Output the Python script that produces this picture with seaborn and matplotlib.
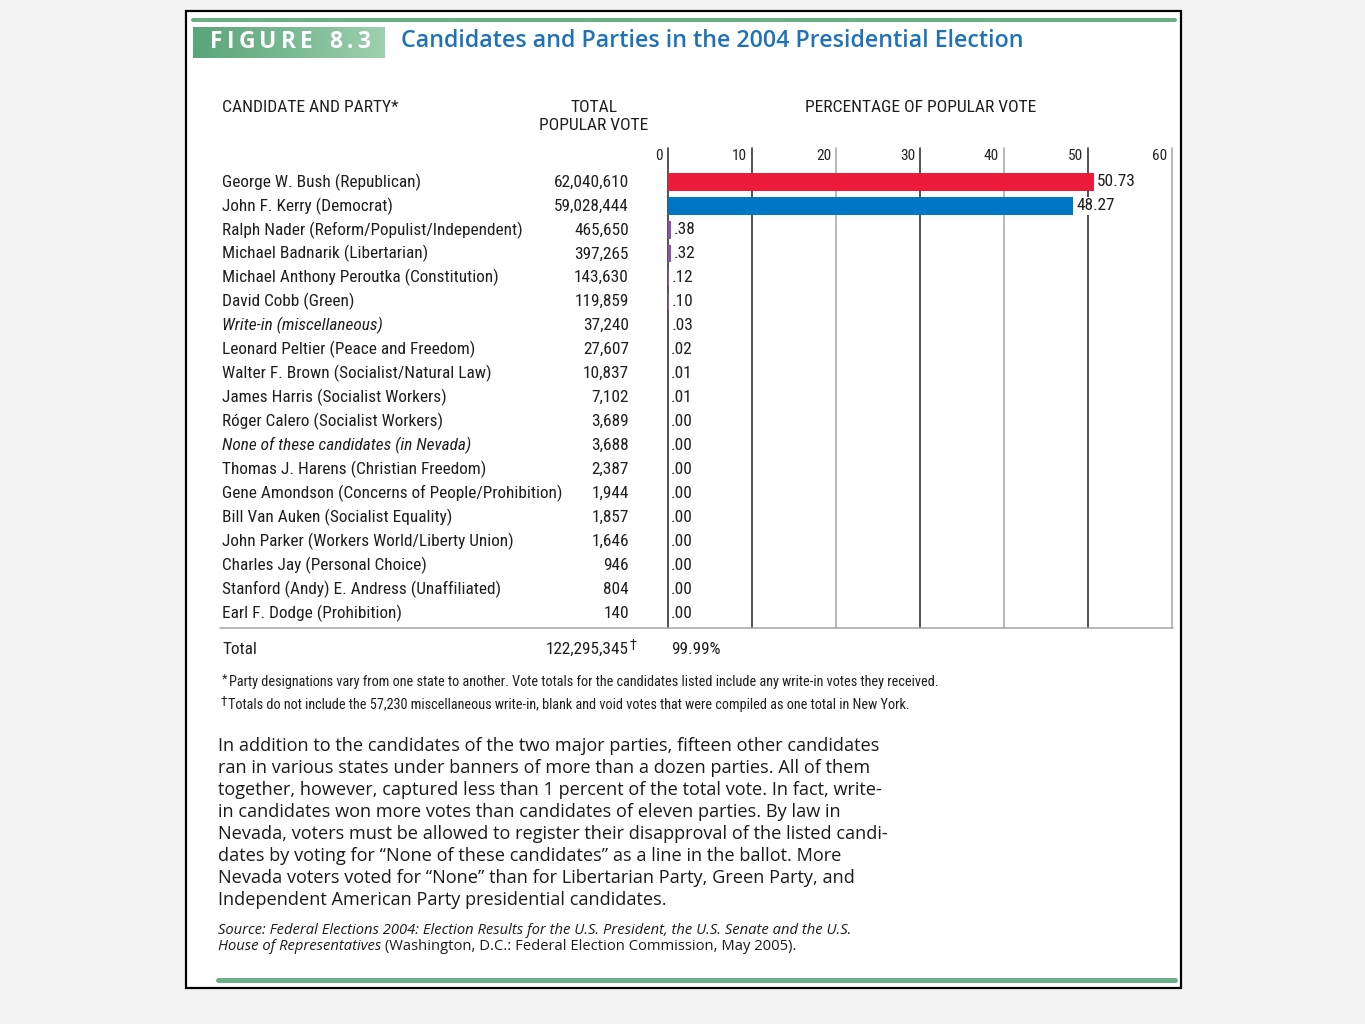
import numpy as np
import pandas as pd
import seaborn as sns
import matplotlib
matplotlib.use("Agg")
import matplotlib.pyplot as plt
import matplotlib.font_manager as fm
from matplotlib.transforms import blended_transform_factory
from matplotlib.patches import Rectangle
from matplotlib.lines import Line2D

# ---------------- data ----------------
candidates = [
    "George W. Bush (Republican)",
    "John F. Kerry (Democrat)",
    "Ralph Nader (Reform/Populist/Independent)",
    "Michael Badnarik (Libertarian)",
    "Michael Anthony Peroutka (Constitution)",
    "David Cobb (Green)",
    "Write-in (miscellaneous)",
    "Leonard Peltier (Peace and Freedom)",
    "Walter F. Brown (Socialist/Natural Law)",
    "James Harris (Socialist Workers)",
    "Róger Calero (Socialist Workers)",
    "None of these candidates (in Nevada)",
    "Thomas J. Harens (Christian Freedom)",
    "Gene Amondson (Concerns of People/Prohibition)",
    "Bill Van Auken (Socialist Equality)",
    "John Parker (Workers World/Liberty Union)",
    "Charles Jay (Personal Choice)",
    "Stanford (Andy) E. Andress (Unaffiliated)",
    "Earl F. Dodge (Prohibition)",
]
votes = [62040610, 59028444, 465650, 397265, 143630, 119859, 37240, 27607,
         10837, 7102, 3689, 3688, 2387, 1944, 1857, 1646, 946, 804, 140]
percent = [50.73, 48.27, 0.38, 0.32, 0.12, 0.10, 0.03, 0.02, 0.01, 0.01,
           0.00, 0.00, 0.00, 0.00, 0.00, 0.00, 0.00, 0.00, 0.00]
italic_rows = ["Write-in (miscellaneous)", "None of these candidates (in Nevada)"]
xticks = [0, 10, 20, 30, 40, 50, 60]
total_votes = "122,295,345"
total_pct = "99.99%"

title = "Candidates and Parties in the 2004 Presidential Election"
figure_label = "FIGURE 8.3"
header_cand = "CANDIDATE AND PARTY*"
header_votes = "TOTAL\nPOPULAR VOTE"
header_pct = "PERCENTAGE OF POPULAR VOTE"
footnote1 = "Party designations vary from one state to another. Vote totals for the candidates listed include any write-in votes they received."
footnote2 = "Totals do not include the 57,230 miscellaneous write-in, blank and void votes that were compiled as one total in New York."
paragraph = [
    "In addition to the candidates of the two major parties, fifteen other candidates",
    "ran in various states under banners of more than a dozen parties. All of them",
    "together, however, captured less than 1 percent of the total vote. In fact, write-",
    "in candidates won more votes than candidates of eleven parties. By law in",
    "Nevada, voters must be allowed to register their disapproval of the listed candi-",
    "dates by voting for \u201cNone of these candidates\u201d as a line in the ballot. More",
    "Nevada voters voted for \u201cNone\u201d than for Libertarian Party, Green Party, and",
    "Independent American Party presidential candidates.",
]
source1 = "Source: Federal Elections 2004: Election Results for the U.S. President, the U.S. Senate and the U.S."
source2a = "House of Representatives"
source2b = " (Washington, D.C.: Federal Election Commission, May 2005)."

# ---------------- style ----------------
sns.set_theme(style="white")
names = {f.name for f in fm.fontManager.ttflist}
narrow = next((n for n in ["Liberation Sans Narrow", "Roboto Condensed", "Roboto", "Liberation Sans"]
               if n in names), "DejaVu Sans")
body = next((n for n in ["Open Sans", "Noto Sans", "Lato"] if n in names), "DejaVu Sans")
plt.rcParams["font.family"] = [narrow, "DejaVu Sans"]

W, H = 1365, 1024
fig = plt.figure(figsize=(W / 100, H / 100), dpi=100)
fig.patch.set_facecolor("#f3f3f3")
renderer = fig.canvas.get_renderer()


def fx(px):
    return px / W


def fy(py):
    return 1 - py / H


def lw(px):
    return px * 0.72


def fit(text, target, **kw):
    t = fig.text(0, 0, text, fontsize=10, **kw)
    w = t.get_window_extent(renderer).width
    t.remove()
    return 10 * target / w


# panel
fig.add_artist(Rectangle((fx(186), fy(988)), (1181 - 186) / W, (988 - 11) / H,
                         transform=fig.transFigure, facecolor="white",
                         edgecolor="black", lw=lw(2.2), zorder=-5))
green = "#6aae86"
fig.add_artist(Line2D([fx(193), fx(1175)], [fy(20), fy(20)], color=green, lw=lw(4), zorder=-4))
fig.add_artist(Line2D([fx(218), fx(1175)], [fy(980), fy(980)], color=green, lw=lw(5), zorder=-4))

# figure label box with gradient
bax = fig.add_axes([fx(193), fy(58), (385 - 193) / W, (58 - 27) / H])
grad = np.linspace(0, 1, 256).reshape(1, -1)
cmap = matplotlib.colors.LinearSegmentedColormap.from_list("g", ["#5aa579", "#78b993", "#9fd0b0"])
bax.imshow(grad, aspect="auto", cmap=cmap, extent=(0, 1, 0, 1))
bax.set_axis_off()

# letter-spaced label
lab_fs = 16.5
chars = list(figure_label)
widths = []
for ch in chars:
    if ch == " ":
        widths.append(0.0)
        continue
    t = fig.text(0, 0, ch, fontsize=lab_fs, family=body, weight="bold")
    widths.append(t.get_window_extent(renderer).width)
    t.remove()
n_gaps = len(chars) - 1
space_extra = 8.0
gap = (160 - sum(widths) - space_extra) / n_gaps
xpos = 210.0
for ch, w in zip(chars, widths):
    if ch == " ":
        xpos += space_extra + gap
        continue
    fig.text(fx(xpos), fy(42), ch, fontsize=lab_fs, family=body, weight="bold",
             color="white", ha="left", va="center", zorder=5)
    xpos += w + gap

fs = fit(title, 621, family=body, weight="semibold")
fig.text(fx(401), fy(41), title, fontsize=fs, family=body, weight="semibold",
         color="#1f72b8", ha="left", va="center")

# ---------------- bars ----------------
df = pd.DataFrame({"candidate": candidates, "pct": percent, "votes": votes})
palette = {c: "#8b52a1" for c in candidates}
palette[candidates[0]] = "#ec1b3b"
palette[candidates[1]] = "#0077c5"

rect = [fx(668), fy(628), (1172 - 668) / W, (628 - 148) / H]
row_px = (613 - 182) / 18
ylim = (18 + (628 - 613) / row_px, -(182 - 148) / row_px)

# background axes for the vertical gridlines
gax = fig.add_axes(rect, zorder=0)
gax.set_xlim(0, 60)
gax.set_ylim(*ylim)
gax.set_axis_off()
dark, light = "#2b2b2b", "#a8a8a8"
for v in xticks:
    gax.axvline(v, color=dark if v in (0, 10, 30, 50) else light,
                lw=lw(1.6), clip_on=False)

ax = fig.add_axes(rect, zorder=1)
sns.barplot(data=df, x="pct", y="candidate", hue="candidate", palette=palette,
            legend=False, orient="h", width=0.72, saturation=1, linewidth=0,
            ax=ax)
ax.set_ylim(*ylim)
ax.set_xlim(0, 60)
ax.set_facecolor("none")
ax.patch.set_alpha(0)
ax.set_xticks([])
ax.set_yticks([])
ax.set_xlabel("")
ax.set_ylabel("")
for s in ax.spines.values():
    s.set_visible(False)

for v in xticks:
    ax.annotate(str(v), xy=(v, (156 - 182) / row_px), xytext=(-5, 0),
                textcoords="offset pixels", ha="right", va="center",
                fontsize=11, color="#222222", annotation_clip=False)

name_fs = fit("Michael Anthony Peroutka (Constitution)", 275)
trans = blended_transform_factory(fig.transFigure, ax.transData)
for i, (c, v, p) in enumerate(zip(candidates, votes, percent)):
    ax.text(fx(222), i, c, transform=trans, ha="left", va="center",
            fontsize=name_fs, color="#1e1e1e",
            style="italic" if c in italic_rows else "normal")
    ax.text(fx(629), i, f"{v:,}", transform=trans, ha="right", va="center",
            fontsize=name_fs, color="#1e1e1e")
    lab = f"{p:.2f}" if p >= 1 else f"{p:.2f}"[1:]
    ax.annotate(lab, xy=(p, i), xytext=(3, 0), textcoords="offset pixels",
                ha="left", va="center", fontsize=name_fs, color="#1e1e1e",
                bbox=dict(boxstyle="square,pad=0.1", facecolor="white", edgecolor="none"))

fig.add_artist(Line2D([fx(220), fx(1173)], [fy(628), fy(628)], color=light, lw=lw(1.6)))

# headers
hfs = fit(header_cand, 176)
fig.text(fx(222), fy(108), header_cand, fontsize=hfs, ha="left", va="center", color="#1e1e1e")
fig.text(fx(594), fy(117), header_votes, fontsize=hfs, ha="center", va="center",
         color="#1e1e1e", linespacing=1.25)
fig.text(fx(921), fy(108), header_pct, fontsize=hfs, ha="center", va="center", color="#1e1e1e")

# total row
fig.text(fx(222), fy(649), "Total", fontsize=name_fs, ha="left", va="center", color="#1e1e1e")
fig.text(fx(629), fy(649), total_votes, fontsize=name_fs, ha="right", va="center", color="#1e1e1e")
fig.text(fx(630), fy(645), "\u2020", fontsize=name_fs * 0.8, ha="left", va="center",
         color="#1e1e1e", family=["DejaVu Sans"])
fig.text(fx(671), fy(649), total_pct, fontsize=name_fs, ha="left", va="center", color="#1e1e1e")

# footnotes
ffs = fit(footnote1, 708)
fig.text(fx(222), fy(679), "*", fontsize=ffs * 0.9, ha="left", va="center", color="#1e1e1e")
fig.text(fx(229), fy(682), footnote1, fontsize=ffs, ha="left", va="center", color="#1e1e1e")
fig.text(fx(221), fy(701), "\u2020", fontsize=ffs * 0.9, ha="left", va="center",
         color="#1e1e1e", family=["DejaVu Sans"])
fig.text(fx(228), fy(705), footnote2, fontsize=ffs, ha="left", va="center", color="#1e1e1e")

# paragraph
pfs = fit(paragraph[0], 664, family=body)
for k, line in enumerate(paragraph):
    fig.text(fx(218), fy(746 + k * 22), line, fontsize=pfs, family=body,
             ha="left", va="center", color="#1a1a1a")

# source
sfs = fit(source1, 634, family=body, style="italic")
fig.text(fx(218), fy(930), source1, fontsize=sfs, family=body, style="italic",
         ha="left", va="center", color="#1a1a1a")
t2 = fig.text(fx(218), fy(947), source2a, fontsize=sfs, family=body, style="italic",
              ha="left", va="center", color="#1a1a1a")
x_end = t2.get_window_extent(renderer).x1 / W
fig.text(x_end, fy(947), source2b, fontsize=sfs, family=body,
         ha="left", va="center", color="#1a1a1a")

fig.savefig("out.png", dpi=100, facecolor=fig.get_facecolor())
